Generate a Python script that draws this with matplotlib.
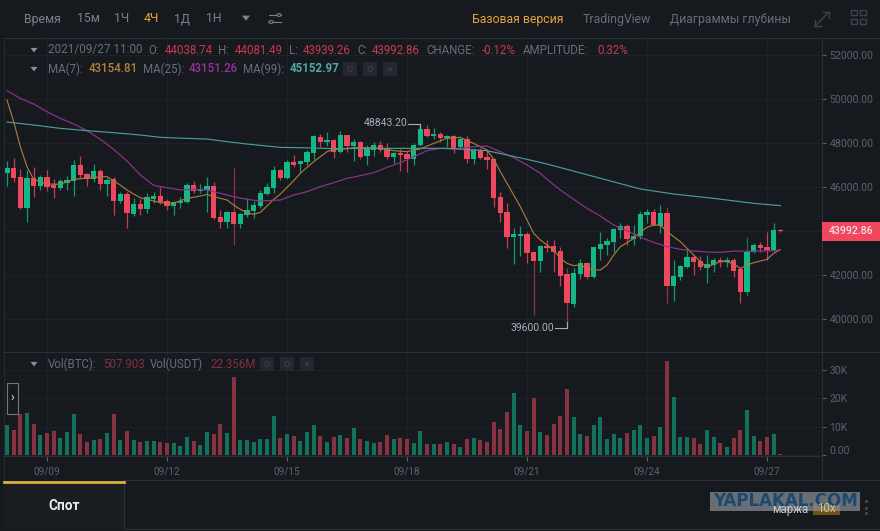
import matplotlib
matplotlib.use("Agg")
import matplotlib.pyplot as plt
from matplotlib.patches import Rectangle, Polygon, Circle

# ---------- data ----------
opens = [46650,46880,46450,45045,46410,46045,46440,46090,45955,46165,46270,47015,46590,46350,46710,46120,46350,45380,45665,44785,
         45210,45000,45470,45590,45380,45150,45270,45320,46090,45835,45850,46030,44635,44425,44865,44320,44710,44895,45135,45680,
         45940,46770,46395,47120,47045,47135,47530,48285,48045,48135,47575,48350,47880,48030,47410,47680,47895,47740,47350,47560,
         47515,47255,47895,48635,48315,48425,48210,48300,47800,48165,47270,47665,47380,47270,45530,44850,43710,43790,43865,43030,
         42650,43320,43320,43090,42045,40680,42045,42560,41895,43195,43365,43515,44060,44240,43620,43755,44740,44880,44240,44820,
         41500,41910,42350,42835,42635,42335,42440,42695,42590,42680,42255,41210,43060,43350,43255,43135,44038.74]
highs = [47180,47330,46820,46770,46890,46545,46770,46380,46350,46500,47230,47390,46620,47045,46800,46395,46470,45770,45785,45485,
         45440,45710,45770,46015,45440,45380,45530,46195,46270,46135,46440,46240,44955,44925,46850,44835,45485,45380,45865,46165,
         46955,46800,47225,47455,47195,47680,48365,48410,48485,48165,48545,48365,48165,48105,47910,48060,48105,47985,47605,47710,
         47650,47985,48843.2,48815,48665,48500,48365,48365,48210,48315,47755,47755,47710,47300,45785,45255,44120,44240,43970,43105,
         43365,43590,43590,43290,42305,42305,42725,42605,43290,43970,43665,44150,44380,44305,44270,44925,44985,44985,45195,45075,
         42680,42455,43210,42910,42865,42910,42755,42835,42835,42755,42350,43740,43470,43515,43940,44350,44081.49]
lows = [46045,46240,44980,44390,45560,45850,45820,45515,45865,45865,45590,46425,46045,46240,45865,45605,44725,45285,44120,44695,
        44740,44800,45285,45225,44955,44725,45060,45285,45710,45740,44865,44530,44150,44120,43365,44150,44650,44605,45060,45635,
        45740,46320,46350,46925,46650,47000,47255,47835,47880,47335,47560,47605,47195,47255,47000,47410,47605,47255,47105,46740,
        46665,47000,47865,48255,48165,48060,47800,47530,47710,47105,47045,47255,46800,45105,44425,43240,42500,42880,42560,40180,
        42150,43060,42120,41500,39600,40560,41835,41835,41880,42680,42910,43045,43665,43365,43365,43620,44350,44225,43895,40710,
        40835,41775,42305,42000,42225,41650,42150,42350,42380,41895,40740,41045,43015,43060,42680,43105,43939.26]
closes = [46850,46410,45030,46410,46045,46455,46015,45955,46270,46300,47015,46545,46350,46725,46135,46335,45380,45665,44835,45210,
          45000,45560,45590,45305,45135,45320,45380,46105,45835,45925,46030,44575,44425,44880,44320,44770,44940,45195,45725,45985,
          46755,46395,47150,47000,47180,47605,48315,48045,48135,47605,48365,47880,48030,47380,47755,47895,47680,47365,47560,47455,
          47255,47925,48635,48315,48410,48210,48300,47785,48165,47255,47680,47335,47210,45515,44805,43710,43865,43865,42985,42650,
          43320,43240,43030,41970,40710,42075,42530,41895,43255,43395,43560,44090,44240,43620,43755,44785,44880,44255,44820,41515,
          41940,42395,42820,42590,42350,42485,42695,42575,42695,42195,41225,43060,43365,43225,43135,44040,43992.86]
volumes = [10764,8892,14508,14859,10998,7020,7722,8424,5967,8307,14391,7488,4797,5499,5850,7956,14508,5499,8658,5382,
           4797,5148,4914,4563,4446,4446,3276,6435,4914,3510,8190,7488,10881,7722,27378,5382,5382,4680,5733,5850,
           13806,6201,7371,6786,5031,8073,10647,6786,4797,6318,7137,6084,9594,5733,5031,4329,4563,7137,5733,6201,
           5733,4329,8658,4095,3978,3978,4563,3978,2925,5733,6084,5265,4680,11583,9360,15093,21879,10530,8541,20124,
           8190,7137,10998,13806,23283,13338,7488,6786,10647,13455,5616,7488,6084,7956,8892,10647,6201,6786,9945,32994,
           20475,6435,6435,5967,4095,8892,6318,4446,2808,6084,8775,15912,6669,4914,6435,7488,507.903]

ma7_idx = [0,1,2,3,4,6,8,9,10,11,13,14,15,16,17,18,19,20,21,23,25,26,27,29,30,31,33,34,35,36,37,38,39,40,41,42,43,44,45,46,47,48,49,50,52,54,56,58,60,61,62,64,66,68,69,70,72,73,74,75,77,79,80,81,82,83,84,85,86,87,88,89,90,91,92,93,94,95,96,97,98,99,100,101,102,103,104,105,106,107,108,109,110,111,112,113,114,115,116]
ma7_val = [49954,48969,47833,46924,46348,46136,46121,46242,46348,46378,46424,46469,46469,46272,46090,45863,45681,45515,45439,45287,45257,45378,45484,45590,45666,45560,45409,45181,44984,44833,44757,44848,45136,45439,45681,45984,46287,46621,46893,47151,47378,47605,47711,47711,47787,47787,47757,47651,47605,47681,47727,47984,48211,48257,48105,47984,47681,47257,46696,46166,45106,43894,43590,43363,43136,42757,42530,42424,42454,42303,42227,42227,42454,42909,43288,43469,43666,43969,44166,44272,44272,43969,43742,43515,43212,42909,42606,42348,42500,42606,42606,42500,42303,42454,42560,42636,42712,42985,43154.81]
ma25_idx = [0,2,4,6,8,10,12,14,16,18,20,22,24,26,28,30,32,34,36,38,41,43,45,47,49,51,53,55,57,59,61,63,65,67,70,72,74,76,78,80,81,83,85,87,89,91,93,95,97,99,101,103,105,107,109,111,113,115,116]
ma25_val = [50378,50029,49772,49423,49120,48863,48560,48166,47711,47181,46545,46075,45969,45863,45894,45863,45712,45560,45439,45363,45409,45636,45787,46015,46196,46393,46515,46651,46893,47105,47378,47651,47757,47727,47833,47863,47605,47333,47000,46621,46348,45863,45439,45030,44681,44272,44015,43712,43485,43288,43167,43090,43045,43030,43090,43075,43090,43105,43151.26]
ma99_idx = [0,4,8,12,16,20,23,27,30,33,36,39,41,44,49,54,61,66,72,75,78,81,95,100,106,112,116]
ma99_val = [48954,48817,48666,48560,48469,48363,48257,48211,48181,48060,47954,47863,47802,47787,47742,47757,47757,47757,47651,47454,47257,47045,45909,45681,45484,45257,45152.97]

price_ticks = [40000,42000,44000,46000,48000,50000,52000]
vol_ticks = [10000,20000,30000]
vol_tick_labels = ["10K","20K","30K"]
date_pos = [6,24,42,60,78,96,114]
date_labels = ["09/09","09/12","09/15","09/18","09/21","09/24","09/27"]

# ---------- styling ----------
W, H = 880, 531
BG = "#161A1E"
GRID = "#1E2228"
LINE = "#2B3038"
TXT = "#666E7A"
AXT = "#5A626D"
UP = "#12B886"
DOWN = "#F0475F"
UPV = "#13705A"
DOWNV = "#863341"
plt.rcParams["font.family"] = ["Roboto", "DejaVu Sans"]

fig = plt.figure(figsize=(W/100, H/100), dpi=100, facecolor=BG)

def axbox(l, t, r, b):
    return [l/W, 1-b/H, (r-l)/W, (b-t)/H]
def tx(x, y, s, color=TXT, size=8.3, ha="left", zorder=10, **kw):
    return fig.text(x/W, 1-y/H, s, color=color, fontsize=size, ha=ha, va="center", zorder=zorder, **kw)
def rect(x, y, w, h, fc, ec="none", lw=0.8, z=5, alpha=None):
    fig.add_artist(Rectangle((x/W, 1-(y+h)/H), w/W, h/H, transform=fig.transFigure,
                             fc=fc, ec=ec, lw=lw, zorder=z, alpha=alpha))
def hline(y, x0, x1, c=LINE, lw=0.8):
    fig.add_artist(plt.Line2D([x0/W, x1/W], [1-y/H, 1-y/H], color=c, lw=lw, zorder=4))
def vline(x, y0, y1, c=LINE, lw=0.8):
    fig.add_artist(plt.Line2D([x/W, x/W], [1-y0/H, 1-y1/H], color=c, lw=lw, zorder=4))
def tri(x, y, c="#848E9C", s=3.5, up=False):
    p = [(x-s, y-s*0.6), (x+s, y-s*0.6), (x, y+s*0.7)]
    fig.add_artist(Polygon([(a/W, 1-b/H) for a, b in p], transform=fig.transFigure, fc=c, ec="none", zorder=6))

# main axes
X0 = -4/6.667
X1 = 815/6.667
ax = fig.add_axes(axbox(3, 38, 822, 352), facecolor=BG)
ax.set_xlim(X0, X1)
ax.set_ylim(40000-33/0.022, 40000+281/0.022)
vax = fig.add_axes(axbox(3, 352, 822, 456), facecolor=BG)
vax.set_xlim(X0, X1)
vax.set_ylim(-(456-455.3)/0.00285, (455.3-352)/0.00285)

idx = list(range(len(opens)))
for i in idx:
    o, h, l, c = opens[i], highs[i], lows[i], closes[i]
    col = UP if c >= o else DOWN
    rng = h - l
    wick_alpha = 0.55 if rng > 2500 else 0.8
    ax.vlines(i, l, h, color=col, lw=0.9, alpha=wick_alpha, zorder=3)
    ax.bar(i, abs(c-o), bottom=min(o, c), width=0.8, color=col, lw=0, zorder=4)
    vax.bar(i, volumes[i], width=0.62, color=UPV if c >= o else DOWNV, lw=0, zorder=3)

ax.plot(ma7_idx, ma7_val, color="#A67A3C", lw=0.85, zorder=5)
ax.plot(ma25_idx, ma25_val, color="#8E3391", lw=0.85, zorder=5)
ax.plot(ma99_idx, ma99_val, color="#4A9C9A", lw=0.85, zorder=5)

for a in (ax, vax):
    for s in a.spines.values():
        s.set_visible(False)
    a.grid(True, color=GRID, lw=0.8, zorder=0)
    a.set_axisbelow(True)
    a.yaxis.tick_right()
    a.set_xticks(date_pos)

ax.set_yticks(price_ticks)
ax.set_yticklabels([f"{p:.2f}" for p in price_ticks])
ax.tick_params(axis="y", length=3, width=0.8, color="#5A616B", labelcolor=AXT, labelsize=7.6, pad=2.5)
ax.tick_params(axis="x", length=0, labelbottom=False)
vax.set_yticks([0]+vol_ticks)
vax.set_yticklabels([""]+vol_tick_labels)
vax.tick_params(axis="y", length=3, width=0.8, color="#5A616B", labelcolor=AXT, labelsize=7.6, pad=2.5)
vax.set_xticklabels(date_labels)
vax.tick_params(axis="x", length=3.5, width=0.8, color="#5A616B", labelcolor=AXT, labelsize=7.2, pad=4)
vax.spines["bottom"].set_visible(True)
vax.spines["bottom"].set_color(LINE)
tx(829, 451, "0.00", size=7.6, color=AXT)

# frame lines
hline(38, 3, 880)
hline(352, 3, 880)
hline(480, 124, 880)
hline(528.5, 124, 880)
vline(822, 38, 480)
vline(3.5, 38, 480, c="#23282E")
vline(124, 481, 528)

# extreme labels
tx(364, 123.5, "48843.20", color="#A9AFB8", size=7.5)
hline(124, 408, 420, c="#A9AFB8")
vline(420, 124, 128, c="#A9AFB8")
tx(510, 328, "39600.00", color="#A9AFB8", size=7.5)
hline(328, 555, 567, c="#A9AFB8")
vline(567, 328, 322, c="#A9AFB8")

# price tag
rect(822, 222, 58, 19, "#F0475F")
tx(851, 231, "43992.86", color="#F4E3E6", size=7.6, ha="center", fontweight="medium")

# header
hdr = "#7A828E"
for x, s, c in [(24, "Время", hdr), (77, "15м", hdr), (114, "1Ч", hdr), (144, "4Ч", "#EDA23C"), (174, "1Д", hdr), (206, "1Н", hdr)]:
    tx(x, 19, s, color=c, size=8.8)
tri(246, 18, c=hdr, s=4)
for yy, cx in [(15, 279), (22, 271)]:
    hline(yy, 269, 281, c=hdr)
    fig.add_artist(Circle((cx/W, 1-yy/H), 0.0025, transform=fig.transFigure, fc=BG, ec=hdr, lw=0.8, zorder=6))
tx(472, 19, "Базовая версия", color="#E5A23F", size=8.8)
tx(583, 19, "TradingView", color=TXT, size=8.8)
tx(670, 19, "Диаграммы глубины", color=TXT, size=8.8)
ICON = "#3D434C"
fig.add_artist(plt.Line2D([815/W, 829/W], [1-26/H, 1-12/H], color=ICON, lw=1.0, zorder=6))
hline(12, 823, 829, c=ICON, lw=1.0); vline(829, 12, 18, c=ICON, lw=1.0)
hline(26, 815, 821, c=ICON, lw=1.0); vline(815, 20, 26, c=ICON, lw=1.0)
for xx in (851, 860):
    for yy in (10, 19):
        rect(xx, yy, 6, 5, "none", ec=ICON, lw=1.0)

# info lines
R1 = "#C9394F"
tri(34, 50); tx(48, 50, "2021/09/27 11:00", size=8.5)
for x, s in [(148, "O:"), (218, "H:"), (289, "L:"), (357, "C:"), (426, "CHANGE:"), (523, "AMPLITUDE:")]:
    tx(x, 50, s, size=8.3)
for x, s in [(165, "44038.74"), (235, "44081.49"), (303, "43939.26"), (372, "43992.86"), (482, "-0.12%"), (597, "0.32%")]:
    tx(x, 50, s, color=R1, size=8.3)
tri(34, 69)
tx(48, 69, "MA(7):", size=8.3); tx(89, 69, "43154.81", color="#B5813A", size=8.3, fontweight="medium")
tx(143, 69, "MA(25):", size=8.3); tx(189, 69, "43151.26", color="#96359A", size=8.3, fontweight="medium")
tx(243, 69, "MA(99):", size=8.3); tx(290, 69, "45152.97", color="#4FA9A6", size=8.3, fontweight="bold")
BOX = "#24282E"
for x in (343, 363, 383):
    rect(x, 62, 14, 14, BOX)
    tx(x+7, 69, "×" if x == 383 else "o", color="#3D434C", size=8, ha="center")

tri(34, 364)
tx(48, 364, "Vol(BTC):", size=8.3); tx(103, 364, "507.903", color="#7E3140", size=8.3)
tx(150, 364, "Vol(USDT)", size=8.3); tx(210, 364, "22.356M", color="#7E3140", size=8.3)
for x in (260, 280, 300):
    rect(x, 357, 14, 14, BOX)
    tx(x+7, 364, "×" if x == 300 else "o", color="#3D434C", size=8, ha="center")

# side handle
rect(6.5, 383, 11, 31, BG, ec="#6E7682", lw=0.8, z=7)
tx(12, 398, "›", color="#B7BDC6", size=9, ha="center", fontweight="bold")

# bottom tab
rect(0, 481, 3.5, 50, "#131C1C", z=3)
rect(4, 481, 120, 47, "#1A1E23", z=3)
hline(481.5, 4, 124, c="#DDB245", lw=2.0)
tx(64, 506, "Спот", color="#EAECEF", size=9.8, ha="center", fontweight="bold")

# margin badge and watermark
rect(813, 503, 27, 12, "#6E4F17", z=6)
rect(710, 492, 150, 19, "#8A8F96", z=7, alpha=0.72)
tx(785, 501.5, "YAPLAKAL.COM", color="#1C4A6E", size=12, ha="center", fontweight="bold",
   family=["DejaVu Sans"], zorder=8)
tx(790, 509, "маржа", color="#C5CAD2", size=8.3, ha="center", zorder=9)
tx(826, 509, "10x", color="#E2BE72", size=8.3, ha="center", zorder=9)
for yy in (500, 507, 512):
    rect(865, yy, 3, 3, "#3D434C", z=6)

fig.savefig("out.png", dpi=100, facecolor=BG)
